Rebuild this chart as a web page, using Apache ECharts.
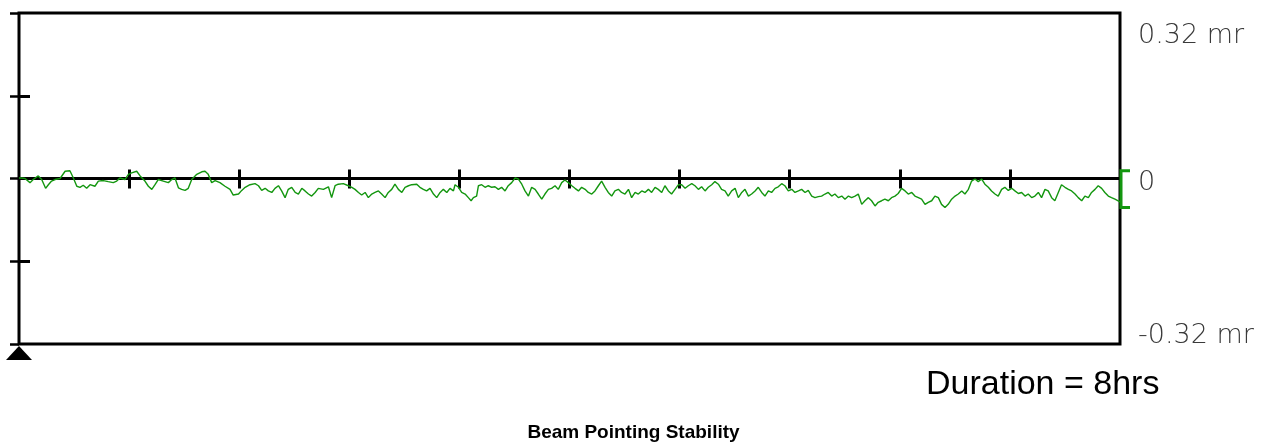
<!DOCTYPE html>
<html>
<head>
<meta charset="utf-8">
<script src="https://cdn.jsdelivr.net/npm/echarts@6/dist/echarts.min.js"></script>
<style>
html,body{margin:0;padding:0;background:#fff;}
#chart{width:1267px;height:446px;}
</style>
</head>
<body>
<div id="chart"></div>
<script>
// elapsed time (minutes of an 8 hr run)
const times = [
0,1.2,2.6,4.8,6.2,8.4,9.9,11.6,12.8,14.2,15.7,17.9,20.1,22.2,23.7,25.2,26.6,28.0,29.5,31.0,
33.1,34.6,36.8,38.9,41.1,42.6,44.0,46.2,47.7,49.1,51.3,52.8,54.9,56.4,57.9,59.3,60.7,62.9,65.1,66.6,
68.0,69.5,70.9,72.4,73.8,75.3,77.5,79.7,81.1,82.5,84.0,85.5,87.6,89.8,92.0,93.4,
94.2,95.7,97.1,98.6,100.7,102.9,104.4,105.8,107.3,108.7,110.2,111.6,113.1,114.5,116.0,117.4,118.9,120.4,121.8,123.3,
124.7,126.2,127.6,129.1,130.5,132.7,134.9,136.3,137.8,139.2,141.4,143.6,145.1,146.5,148.0,149.4,150.9,152.3,153.8,155.2,
156.7,158.1,159.6,161.0,162.5,163.9,165.4,166.9,168.3,169.8,171.2,173.4,174.8,176.3,177.7,179.2,180.7,182.1,183.6,185.0,
186.5,187.9,189.4,
190.1,191.6,193.0,194.5,195.9,197.1,198.1,199.5,200.3,201.7,203.2,204.6,206.1,207.5,209.0,210.4,211.9,213.3,214.8,216.3,
217.7,219.2,220.6,222.1,223.5,225.0,226.4,227.9,229.3,230.8,232.2,233.7,235.1,236.6,238.0,239.5,241.0,242.4,243.9,245.3,
246.8,248.2,249.7,251.1,252.6,254.0,255.5,256.9,258.4,259.8,261.3,262.7,264.2,265.7,267.1,268.6,270.0,271.5,272.9,274.4,
275.8,277.3,278.7,280.2,281.6,283.1,284.5,286.0,287.5,
288.9,290.4,291.8,293.3,294.7,296.2,297.6,299.1,300.5,302.0,303.4,304.9,306.3,307.8,309.2,310.7,312.2,313.6,315.1,316.5,
318.0,319.4,320.9,322.3,323.8,325.2,326.7,328.1,329.6,331.0,332.5,333.9,335.4,336.9,338.3,339.8,341.2,342.7,344.1,345.6,
347.0,348.5,349.9,351.4,352.8,354.3,355.7,357.2,358.7,360.1,361.6,363.0,364.5,365.9,367.4,368.8,370.3,371.7,373.2,374.6,
376.1,377.5,379.0,380.4,381.9,383.3,
384.8,386.3,387.7,389.2,390.6,392.1,393.5,395.0,396.4,397.9,399.3,400.8,402.2,403.7,405.1,406.6,408.1,409.5,411.0,412.4,
413.9,415.3,416.8,418.2,419.7,421.1,422.6,424.0,425.5,426.9,428.4,429.8,431.3,432.8,434.2,435.7,437.1,438.6,440.0,441.5,
442.9,444.4,445.8,447.3,448.7,450.2,451.6,453.1,454.5,456.0,457.5,458.9,460.4,461.8,463.3,464.7,466.2,467.6,469.1,470.5,
472.0,473.4,474.9,476.3,477.8,480
];
// beam pointing deviation (mr)
const values = [
0.001,0.001,0,-0.008,-0.002,0.005,-0.002,-0.019,-0.012,-0.005,-0.002,0,0.014,0.015,0.001,-0.015,-0.017,-0.013,-0.019,-0.012,
-0.015,-0.005,-0.004,-0.006,-0.008,-0.005,0.001,-0.002,0.008,0.011,0.014,0.005,-0.005,-0.015,-0.021,-0.012,-0.002,-0.005,-0.008,-0.002,
0.001,-0.018,-0.021,-0.023,-0.019,-0.002,0.008,0.013,0.014,0.008,-0.008,-0.004,-0.008,-0.015,-0.021,-0.032,
-0.032,-0.030,-0.023,-0.017,-0.012,-0.010,-0.014,-0.023,-0.019,-0.024,-0.027,-0.019,-0.014,-0.024,-0.037,-0.021,-0.017,-0.027,-0.030,-0.019,
-0.024,-0.030,-0.034,-0.027,-0.019,-0.021,-0.016,-0.037,-0.014,-0.011,-0.010,-0.014,-0.017,-0.021,-0.027,-0.032,-0.027,-0.037,-0.030,-0.027,
-0.024,-0.030,-0.037,-0.027,-0.021,-0.011,-0.021,-0.027,-0.017,-0.014,-0.012,-0.011,-0.017,-0.021,-0.024,-0.019,-0.030,-0.037,-0.027,-0.021,
-0.027,-0.019,-0.024,
-0.012,-0.017,-0.027,-0.030,-0.037,-0.043,-0.037,-0.034,-0.014,-0.012,-0.017,-0.014,-0.017,-0.016,-0.021,-0.017,-0.024,-0.014,-0.008,0.001,
-0.001,-0.011,-0.024,-0.034,-0.017,-0.021,-0.030,-0.040,-0.030,-0.021,-0.019,-0.014,-0.021,-0.008,-0.003,-0.008,-0.014,-0.019,-0.024,-0.017,
-0.021,-0.027,-0.030,-0.024,-0.014,-0.005,-0.017,-0.027,-0.034,-0.024,-0.021,-0.027,-0.030,-0.021,-0.037,-0.027,-0.030,-0.024,-0.027,-0.021,
-0.027,-0.017,-0.021,-0.027,-0.014,-0.024,-0.030,-0.021,-0.012,
-0.012,-0.019,-0.014,-0.010,-0.014,-0.021,-0.016,-0.024,-0.017,-0.012,-0.006,-0.011,-0.021,-0.024,-0.034,-0.024,-0.019,-0.037,-0.027,-0.021,
-0.034,-0.030,-0.024,-0.017,-0.027,-0.034,-0.024,-0.027,-0.019,-0.016,-0.010,-0.014,-0.024,-0.021,-0.027,-0.024,-0.021,-0.027,-0.023,-0.034,
-0.037,-0.035,-0.034,-0.030,-0.027,-0.034,-0.030,-0.037,-0.034,-0.040,-0.034,-0.037,-0.034,-0.030,-0.050,-0.043,-0.037,-0.043,-0.053,-0.046,
-0.043,-0.040,-0.043,-0.037,-0.034,-0.029,
-0.019,-0.024,-0.030,-0.027,-0.034,-0.037,-0.040,-0.050,-0.046,-0.043,-0.034,-0.037,-0.050,-0.056,-0.050,-0.040,-0.034,-0.030,-0.024,-0.030,
-0.021,-0.005,-0.001,-0.006,-0.001,-0.011,-0.017,-0.024,-0.030,-0.034,-0.021,-0.017,-0.023,-0.019,-0.024,-0.029,-0.027,-0.034,-0.030,-0.037,
-0.034,-0.027,-0.037,-0.021,-0.024,-0.037,-0.043,-0.027,-0.012,-0.017,-0.021,-0.024,-0.030,-0.037,-0.043,-0.034,-0.037,-0.027,-0.021,-0.014,
-0.019,-0.027,-0.034,-0.037,-0.040,-0.045
];
const xTicks = [48, 96, 144, 192, 240, 288, 336, 384, 432];
const innerYTicks = [-0.16, 0.16];
const rightLabelValues = [-0.32, 0, 0.32];
const rightLabelTexts = ['-0.32 mr', '0', '0.32 mr'];
const titleText = 'Beam Pointing Stability';
const durationText = 'Duration = 8hrs';

const chart = echarts.init(document.getElementById('chart'));
const labelFont = {fontFamily: 'DejaVu Sans', fontSize: 27, fontWeight: 200, color: '#3a3a3a'};

const option = {
  animation: false,
  backgroundColor: '#fff',
  title: [
    {text: titleText, left: 'center', top: 423, padding: 0,
     textStyle: {fontFamily: 'Liberation Sans', fontSize: 19, fontWeight: 'bold', color: '#000'}},
    {text: durationText, left: 926, top: 368, padding: 0,
     textStyle: {fontFamily: 'Liberation Sans', fontSize: 34, fontWeight: 'normal', color: '#000'}}
  ],
  grid: {left: 19, top: 13, width: 1101, height: 331, show: true,
         borderColor: '#000', borderWidth: 3, backgroundColor: 'transparent'},
  xAxis: [
    {type: 'value', min: 0, max: 480, interval: 48, position: 'bottom',
     axisLine: {show: true, onZero: true, lineStyle: {color: '#000', width: 3}},
     axisTick: {show: true, inside: false, length: 10, customValues: xTicks, lineStyle: {color: '#000', width: 3}},
     axisLabel: {show: false}, splitLine: {show: false}},
    {type: 'value', min: 0, max: 480, interval: 48, position: 'top',
     axisLine: {show: false, onZero: true},
     axisTick: {show: true, inside: false, length: 9, customValues: xTicks, lineStyle: {color: '#000', width: 3}},
     axisLabel: {show: false}, splitLine: {show: false}}
  ],
  yAxis: [
    {type: 'value', min: -0.32, max: 0.32, interval: 0.16, position: 'left',
     axisLine: {show: true, lineStyle: {color: '#000', width: 2}},
     axisTick: {show: true, inside: false, length: 9, lineStyle: {color: '#000', width: 2.5}},
     axisLabel: {show: false}, splitLine: {show: false}},
    {type: 'value', min: -0.32, max: 0.32, interval: 0.32, position: 'right',
     axisLine: {show: false}, axisTick: {show: false}, splitLine: {show: false},
     axisLabel: {
       show: true, margin: 18, ...labelFont,
       formatter: function (val) {
         const i = rightLabelValues.findIndex(v => Math.abs(v - val) < 1e-9);
         if (i < 0) return '';
         const t = rightLabelTexts[i];
         if (val > 0) return '{top|' + t + '}';
         if (val < 0) return '{bot|' + t + '}';
         return '{mid|' + t + '}';
       },
       rich: {
         top: {...labelFont, padding: [46, 0, 0, 0]},
         bot: {...labelFont, padding: [0, 0, 16, 0]},
         mid: {...labelFont, padding: [8, 0, 0, 0]}
       }
     }},
    {type: 'value', min: -0.32, max: 0.32, interval: 0.16, position: 'left', offset: -11,
     axisLine: {show: false},
     axisTick: {show: true, inside: false, length: 11, customValues: innerYTicks, lineStyle: {color: '#000', width: 3}},
     axisLabel: {show: false}, splitLine: {show: false}}
  ],
  series: [{
    type: 'line', xAxisIndex: 0, yAxisIndex: 0, showSymbol: false, z: 3,
    lineStyle: {color: '#13960f', width: 1.4},
    data: times.map((t, i) => [t, values[i]])
  }]
};
chart.setOption(option);

const p0 = chart.convertToPixel({gridIndex: 0}, [0, -0.32]);
const pHi = chart.convertToPixel({gridIndex: 0}, [480, Math.max(...values)]);
const pLo = chart.convertToPixel({gridIndex: 0}, [480, Math.min(...values)]);
chart.setOption({
  graphic: [
    {type: 'polygon', z: 10, shape: {points: [[p0[0], p0[1] + 2], [p0[0] - 13, p0[1] + 16], [p0[0] + 13, p0[1] + 16]]},
     style: {fill: '#000'}},
    {type: 'polyline', z: 10, shape: {points: [[pHi[0] + 10, pHi[1]], [pHi[0] + 1, pHi[1]], [pLo[0] + 1, pLo[1]], [pLo[0] + 10, pLo[1]]]},
     style: {stroke: '#13960f', lineWidth: 3, fill: null}}
  ]
});
</script>
</body>
</html>
